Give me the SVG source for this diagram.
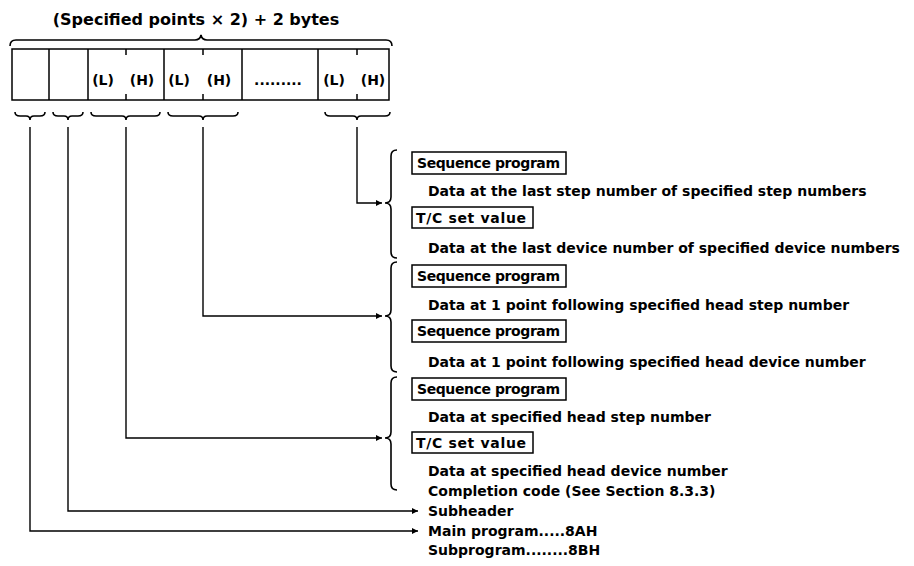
<svg xmlns="http://www.w3.org/2000/svg" width="914" height="566" viewBox="0 0 914 566">
<defs>
<style>
text{font-family:"DejaVu Sans","Liberation Sans",Arial,sans-serif;font-weight:bold;fill:#000}
.t{font-size:14px}
.c{font-size:14px;text-anchor:middle}
.ttl{font-size:16px;text-anchor:middle}
.ln{fill:none;stroke:#000;stroke-width:1.5}
.br{fill:none;stroke:#000;stroke-width:1.6}
.bx{fill:none;stroke:#000;stroke-width:1.5}
.cn{fill:none;stroke:#000;stroke-width:1.4}
</style>
<marker id="ah" viewBox="0 0 10 10" refX="10" refY="5" markerWidth="7" markerHeight="6" markerUnits="userSpaceOnUse" orient="auto">
<path d="M0,0 L10,5 L0,10 Z" fill="#000"/>
</marker>
</defs>
<rect width="914" height="566" fill="#fff"/>

<g id="header">
<text class="ttl" x="196" y="25">(Specified points × 2) + 2 bytes</text>
<path class="br" d="M10,46 Q10,40 16,40 L195,40 Q200,40 201,35 Q202,40 207,40 L386,40 Q392,40 392,46"/>
</g>

<g id="frame">
<rect class="bx" x="12" y="49" width="377" height="51"/>
<path class="ln" d="M49,49 V100 M88,49 V100 M164,49 V100 M242,49 V100 M318,49 V100"/>
<path class="ln" d="M126,49 V55 M126,94 V100 M203,49 V55 M203,94 V100 M357,49 V55 M357,94 V100"/>
<text class="c" x="103" y="85">(L)</text>
<text class="c" x="142" y="85">(H)</text>
<text class="c" x="179" y="85">(L)</text>
<text class="c" x="219" y="85">(H)</text>
<text class="c" x="278" y="85">.........</text>
<text class="c" x="334" y="85">(L)</text>
<text class="c" x="373" y="85">(H)</text>
</g>

<g id="field-braces">
<path class="br" d="M15,112 Q15,116 20,116 L26,116 Q30,116 30,120 Q30,116 34,116 L40,116 Q45,116 45,112"/>
<path class="br" d="M53,112 Q53,116 58,116 L64,116 Q68,116 68,120 Q68,116 72,116 L78,116 Q83,116 83,112"/>
<path class="br" d="M91,112 Q91,116 96,116 L122,116 Q126,116 126,120 Q126,116 130,116 L155,116 Q160,116 160,112"/>
<path class="br" d="M168,112 Q168,116 173,116 L199,116 Q203,116 203,120 Q203,116 207,116 L233,116 Q238,116 238,112"/>
<path class="br" d="M325,112 Q325,116 330,116 L353,116 Q357,116 357,120 Q357,116 361,116 L385,116 Q390,116 390,112"/>
</g>

<g id="last-point">
<path class="br" d="M397,150 Q391,150 391,156 L391,197 Q391,203 385,203 Q391,203 391,209 L391,252 Q391,258 397,258"/>
<rect class="bx" x="412" y="152" width="154" height="22"/>
<text class="t" x="417" y="168" textLength="143">Sequence program</text>
<text class="t" x="428" y="196">Data at the last step number of specified step numbers</text>
<rect class="bx" x="412" y="207" width="121" height="21"/>
<text class="t" x="416" y="223" textLength="110">T/C set value</text>
<text class="t" x="428" y="253">Data at the last device number of specified device numbers</text>
</g>

<g id="second-point">
<path class="br" d="M397,262 Q391,262 391,268 L391,310 Q391,316 385,316 Q391,316 391,322 L391,366 Q391,372 397,372"/>
<rect class="bx" x="412" y="265" width="154" height="22"/>
<text class="t" x="417" y="281" textLength="143">Sequence program</text>
<text class="t" x="428" y="310">Data at 1 point following specified head step number</text>
<rect class="bx" x="412" y="320" width="154" height="22"/>
<text class="t" x="417" y="336" textLength="143">Sequence program</text>
<text class="t" x="428" y="367">Data at 1 point following specified head device number</text>
</g>

<g id="first-point">
<path class="br" d="M397,377 Q391,377 391,383 L391,432 Q391,438 385,438 Q391,438 391,444 L391,484 Q391,490 397,490"/>
<rect class="bx" x="412" y="378" width="154" height="22"/>
<text class="t" x="417" y="394" textLength="143">Sequence program</text>
<text class="t" x="428" y="422">Data at specified head step number</text>
<rect class="bx" x="412" y="432" width="121" height="21"/>
<text class="t" x="416" y="448" textLength="110">T/C set value</text>
<text class="t" x="428" y="476">Data at specified head device number</text>
<text class="t" x="428" y="496">Completion code (See Section 8.3.3)</text>
</g>

<g id="subheader">
<text class="t" x="428" y="516">Subheader</text>
</g>

<g id="program-type">
<text class="t" x="428" y="536">Main program.....8AH</text>
<text class="t" x="428" y="555">Subprogram........8BH</text>
</g>

<g id="connectors">
<path class="cn" d="M357,127 V203 H382" marker-end="url(#ah)"/>
<path class="cn" d="M203,127 V316 H382" marker-end="url(#ah)"/>
<path class="cn" d="M126,127 V438 H382" marker-end="url(#ah)"/>
<path class="cn" d="M68,127 V511 H418" marker-end="url(#ah)"/>
<path class="cn" d="M30,127 V531 H418" marker-end="url(#ah)"/>
</g>
</svg>
